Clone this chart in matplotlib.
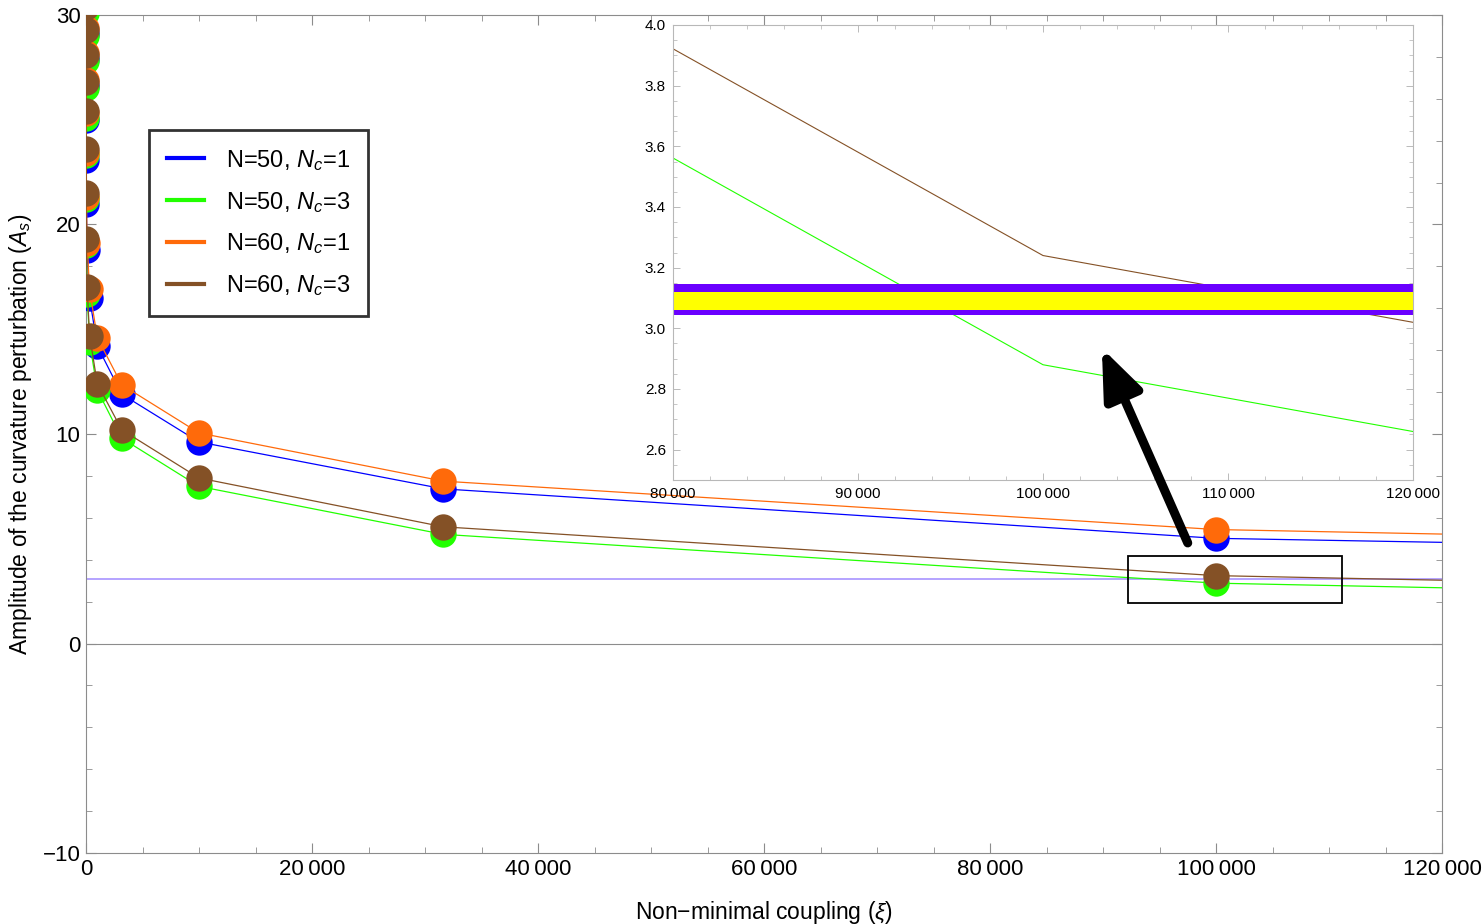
import matplotlib
matplotlib.use('Agg')
import matplotlib.pyplot as plt
from matplotlib.patches import Rectangle

plt.rcParams['font.family'] = ['Liberation Sans', 'DejaVu Sans']
plt.rcParams['mathtext.fontset'] = 'custom'
plt.rcParams['mathtext.rm'] = 'Liberation Sans'
plt.rcParams['mathtext.it'] = 'Liberation Sans:italic'

# non-minimal coupling values (log spaced, half decades)
xi = [0.01, 0.0316, 0.1, 0.316, 1, 3.16, 10, 31.6, 100, 316, 1000, 3162, 10000, 31623, 100000, 316228]

amp_n50_nc1 = [31.2, 30.2, 29.1, 27.9, 26.6, 25.0, 23.1, 21.0, 18.8, 16.5, 14.2, 11.9, 9.62, 7.38, 5.02, 2.95]
amp_n50_nc3 = [30.1, 29.0, 27.8, 26.5, 25.1, 23.3, 21.2, 19.0, 16.7, 14.4, 12.1, 9.8, 7.5, 5.21, 2.88, 0.50]
amp_n60_nc1 = [31.5, 30.5, 29.4, 28.2, 26.9, 25.3, 23.4, 21.3, 19.1, 16.9, 14.6, 12.35, 10.05, 7.75, 5.44, 3.10]
amp_n60_nc3 = [30.4, 29.3, 28.1, 26.8, 25.4, 23.6, 21.5, 19.3, 17.0, 14.7, 12.4, 10.2, 7.9, 5.57, 3.24, 0.86]

series = [
    ("N=50, $N_c$=1", amp_n50_nc1, "#0000ff"),
    ("N=50, $N_c$=3", amp_n50_nc3, "#22ff00"),
    ("N=60, $N_c$=1", amp_n60_nc1, "#ff6a0a"),
    ("N=60, $N_c$=3", amp_n60_nc3, "#845126"),
]

# observed band (outer / inner)
band_outer = (3.045, 3.147)
band_inner = (3.062, 3.121)

main_xticks = [0, 20000, 40000, 60000, 80000, 100000, 120000]
main_xlabels = ["0", "20\u2009000", "40\u2009000", "60\u2009000", "80\u2009000", "100\u2009000", "120\u2009000"]
main_yticks = [-10, 0, 10, 20, 30]

inset_xticks = [80000, 90000, 100000, 110000, 120000]
inset_xlabels = ["80\u2009000", "90\u2009000", "100\u2009000", "110\u2009000", "120\u2009000"]
inset_yticks = [2.6, 2.8, 3.0, 3.2, 3.4, 3.6, 3.8, 4.0]

frame_col = "#8c8c8c"

fig = plt.figure(figsize=(14.84, 9.24), dpi=100)
ax = fig.add_axes([86 / 1484, 1 - 853 / 924, 1356 / 1484, 838 / 924])

for label, amp, col in series:
    ax.plot(xi, amp, color=col, lw=0.9, label=label, marker='o', ms=19,
            markeredgewidth=0, zorder=3)

ax.axhline(0, color=frame_col, lw=0.8, zorder=1)
ax.axhspan(*band_outer, color="#7a5cff", alpha=0.55, lw=0, zorder=2)

ax.set_xlim(0, 120000)
ax.set_ylim(-10, 30)
ax.set_xticks(main_xticks)
ax.set_xticklabels(main_xlabels)
ax.set_xticks(range(0, 120001, 5000), minor=True)
ax.set_yticks(main_yticks)
ax.set_yticks(range(-10, 31, 2), minor=True)
ax.tick_params(which='both', direction='in', top=True, right=True, color=frame_col,
               labelsize=16, pad=4)
ax.tick_params(which='major', length=7, width=0.8)
ax.tick_params(which='minor', length=4, width=0.6)
for s in ax.spines.values():
    s.set_color(frame_col)
    s.set_linewidth(0.8)

ax.set_xlabel("Non\u2212minimal coupling ($\\xi$)", fontsize=16.5, labelpad=14)
ax.set_ylabel("Amplitude of the curvature perturbation ($A_s$)", fontsize=16.5, labelpad=6)

leg = ax.legend(loc='upper left', bbox_to_anchor=((149 - 86) / 1356, 1 - (130 - 15) / 838),
                borderaxespad=0, fontsize=17, frameon=True, fancybox=False,
                handlelength=1.6, handletextpad=0.9, borderpad=0.75, labelspacing=0.72)
leg.get_frame().set_edgecolor('black')
leg.get_frame().set_linewidth(2)
for h in leg.legend_handles:
    h.set_marker('')
    h.set_linewidth(3)

# zoom box
ax.add_patch(Rectangle((92200, 1.91), 18940, 2.29, fill=False, ec='black', lw=1.3, zorder=4))

# inset
ins = fig.add_axes([673 / 1484, 1 - 480 / 924, 740 / 1484, 455 / 924])
for label, amp, col in series:
    ins.plot(xi, amp, color=col, lw=0.8)
ins.axhspan(*band_outer, color="#6a00ff", lw=0, zorder=2)
ins.axhspan(*band_inner, color="#ffff00", lw=0, zorder=2)
ins.set_xlim(80000, 120000)
ins.set_ylim(2.5, 4.0)
ins.set_xticks(inset_xticks)
ins.set_xticklabels(inset_xlabels)
ins.set_xticks(range(80000, 120001, 2000), minor=True)
ins.set_yticks(inset_yticks)
ins.set_yticklabels([f"{v:.1f}" for v in inset_yticks])
ins.set_yticks([2.5 + 0.05 * i for i in range(31)], minor=True)
ins.tick_params(which='both', direction='in', top=True, right=True, color="#b0b0b0",
                labelsize=11, pad=5)
ins.tick_params(which='major', length=5, width=0.6)
ins.tick_params(which='minor', length=3, width=0.5)
for s in ins.spines.values():
    s.set_color("#b8b8b8")
    s.set_linewidth(0.8)

# arrow from the zoom box up into the inset, drawn above the inset
ins.annotate('', xy=(89900, 14.1), xycoords=ax.transData,
             xytext=(97500, 4.8), textcoords=ax.transData,
             arrowprops=dict(arrowstyle='-|>,head_length=1.5,head_width=0.6', lw=6.5,
                             color='black', mutation_scale=20, shrinkA=0, shrinkB=0),
             annotation_clip=False, zorder=10)

fig.savefig("out.png", dpi=100)
